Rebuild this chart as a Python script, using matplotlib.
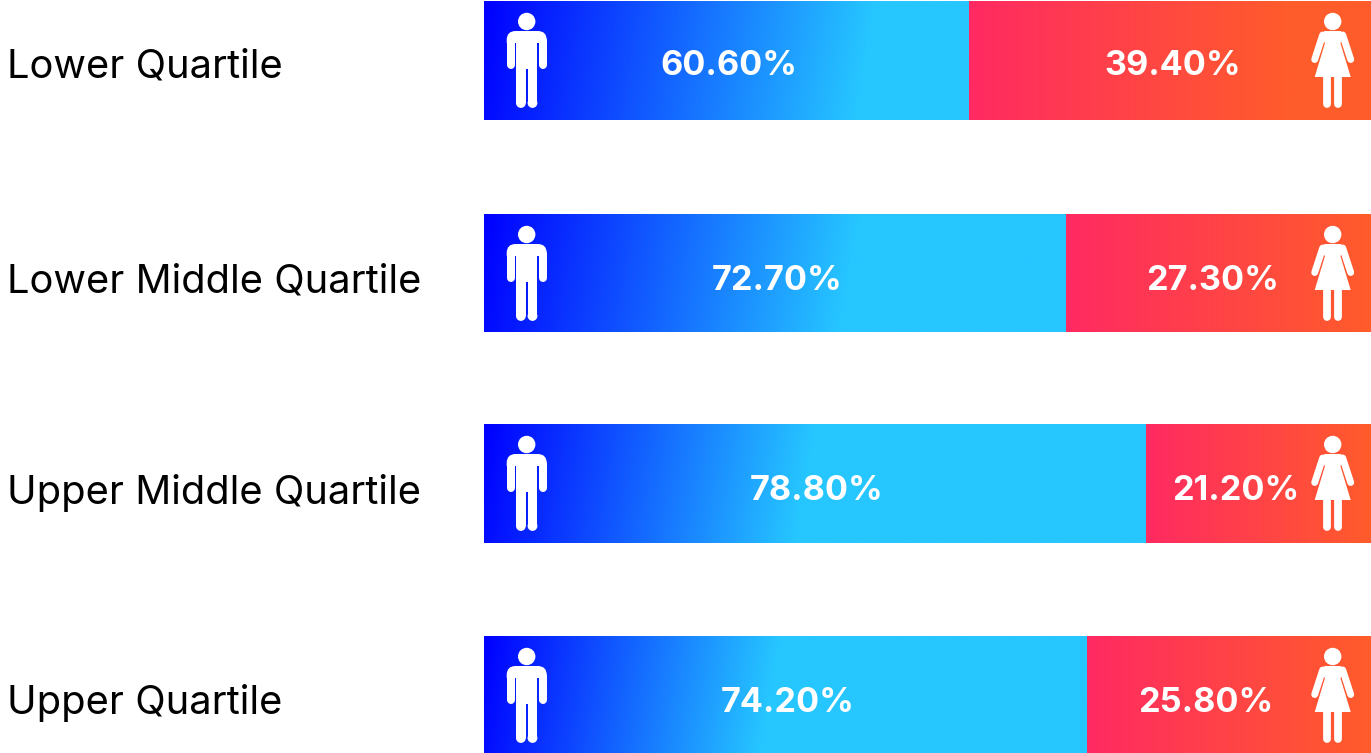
import matplotlib
matplotlib.use('Agg')
import matplotlib.pyplot as plt
import numpy as np
from matplotlib.colors import LinearSegmentedColormap
from matplotlib.patches import Circle, Polygon, PathPatch, Rectangle
from matplotlib.path import Path

categories = ['Lower Quartile', 'Lower Middle Quartile', 'Upper Middle Quartile', 'Upper Quartile']
men = [60.6, 72.7, 78.8, 74.2]
women = [39.4, 27.3, 21.2, 25.8]
# the bars in the picture are not to scale with their labels, this is the drawn share for men
men_drawn = [54.7, 65.6, 74.6, 68.0]

# layout in pixels of the reference
W, H = 1371, 753
BAR_LEFT = 484
bar_top = [1, 214, 424, 636]
bar_bottom = [120, 332, 543, 753]
label_base = [77, 292, 504, 714]
value_base = [75, 290, 500, 712]
men_text_x = [729, 777, 817, 788]
women_text_x = [1173, 1213, 1236, 1206]
# length in pixels of the blue gradient, and share of the red one
blue_len = [391, 376, 331, 296]
red_stop = [0.8, 1, 1, 1]
TILT = 0.17

blues = LinearSegmentedColormap.from_list('blues', ['#0000ff', '#26c6ff'])
reds = LinearSegmentedColormap.from_list('reds', ['#ff2a62', '#ff5c2b'])

plt.rcParams['font.family'] = ['Inter', 'DejaVu Sans']

fig = plt.figure(figsize=(W / 100, H / 100), dpi=100)

ax = fig.add_axes([BAR_LEFT / W, 0, 1 - BAR_LEFT / W, 1])
ax.set_xlim(0, 100)
ax.set_ylim(H, 0)
ax.axis('off')

# whole figure axes in pixels for labels and icons
page = fig.add_axes([0, 0, 1, 1], zorder=2)
page.set_xlim(0, W)
page.set_ylim(H, 0)
page.axis('off')


def gradient_bar(left, value, top, bottom, cmap, length, tilt):
    bar = ax.barh((top + bottom) / 2, value, height=bottom - top, left=left, color='none')[0]
    px = value / 100 * (W - BAR_LEFT)
    xs, ys = np.meshgrid(np.linspace(0, px, 400), np.linspace(0, bottom - top, 60))
    img = ax.imshow(np.clip((xs + tilt * ys) / length, 0, 1), cmap=cmap, vmin=0, vmax=1,
                    aspect='auto', extent=(left, left + value, bottom, top),
                    interpolation='bilinear')
    img.set_clip_path(bar)


def white(patch):
    patch.set(fc='white', ec='none', zorder=5)
    page.add_patch(patch)


def man(cx, top):
    white(Circle((cx, top + 20.5), 8.7))
    verts = [(cx - 20, top + 42), (cx - 20, top + 39), (cx - 20, top + 30), (cx - 11, top + 30),
             (cx + 11, top + 30), (cx + 20, top + 30), (cx + 20, top + 39), (cx + 20, top + 42),
             (cx - 20, top + 42)]
    codes = [Path.MOVETO, Path.LINETO, Path.CURVE3, Path.CURVE3, Path.LINETO, Path.CURVE3,
             Path.CURVE3, Path.LINETO, Path.CLOSEPOLY]
    white(PathPatch(Path(verts, codes)))
    for x in (-16, 16):
        page.plot([cx + x, cx + x], [top + 40, top + 64], color='white', lw=5.76,
                  solid_capstyle='round', zorder=5)
    white(Rectangle((cx - 10.7, top + 38), 21.4, 30))
    for x in (-10.7, 0.9):
        white(Rectangle((cx + x, top + 66), 9.8, 36))
        white(Circle((cx + x + 4.9, top + 102), 4.9))


def woman(cx, top):
    white(Circle((cx, top + 20.5), 8.7))
    white(Polygon([(cx - 8, top + 30), (cx + 8, top + 30), (cx + 13, top + 36), (cx + 7.7, top + 42),
                   (cx + 18, top + 76), (cx - 18, top + 76), (cx - 7.7, top + 42), (cx - 13, top + 36)]))
    for s in (-1, 1):
        page.plot([cx + s * 10, cx + s * 18], [top + 34, top + 58.5], color='white', lw=5,
                  solid_capstyle='round', zorder=5)
        page.plot([cx + s * 5.6, cx + s * 5.6], [top + 72, top + 103], color='white', lw=5.6,
                  solid_capstyle='round', zorder=5)


for i, name in enumerate(categories):
    share = men_drawn[i]
    gradient_bar(0, share, bar_top[i], bar_bottom[i], blues, blue_len[i], TILT)
    red_px = (100 - share) / 100 * (W - BAR_LEFT)
    gradient_bar(share, 100 - share, bar_top[i], bar_bottom[i], reds, red_px * red_stop[i], 0)
    page.text(7, label_base[i], name, fontsize=28.7, color='black', va='baseline')
    page.text(men_text_x[i], value_base[i], f'{men[i]:.2f}%', color='white', fontsize=24.6,
              fontweight='bold', ha='center', va='baseline', zorder=6)
    page.text(women_text_x[i], value_base[i], f'{women[i]:.2f}%', color='white', fontsize=24.6,
              fontweight='bold', ha='center', va='baseline', zorder=6)
    man(526.7, bar_top[i])
    woman(1332.7, bar_top[i])

fig.savefig('out.png', dpi=100)
